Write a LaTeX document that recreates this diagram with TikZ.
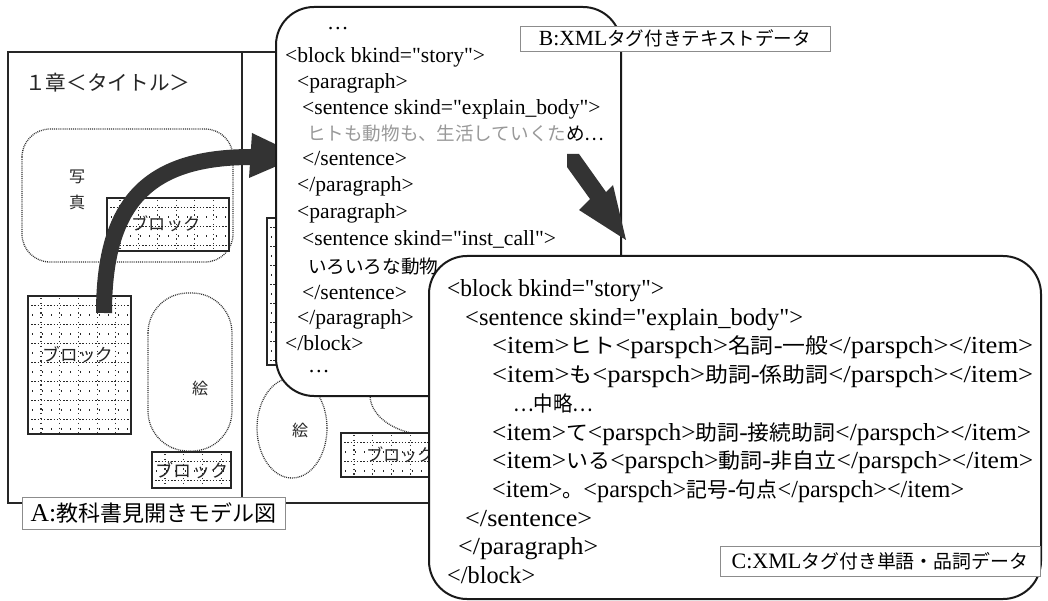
\documentclass[tikz,border=0pt]{standalone}
\usepackage{fontspec}
\usepackage{graphicx}
\setmainfont{Liberation Serif}
\newfontfamily\lat{Liberation Serif}
\newfontfamily\jpfont{Noto Sans CJK JP}[Scale=0.86]
\newcommand\J[1]{{\jpfont #1}}
\newcommand\fitw[2]{\resizebox{#1pt}{\height}{#2}}

\tikzset{
 frame/.style={draw=black!85, line width=1.6pt},
 dotline/.style={draw=black!80, line width=1.3pt, dash pattern=on 0.9pt off 1pt},
 blkline/.style={draw=black!85, line width=2.2pt},
 densedots/.style={draw=black!85, line width=1.3pt, dash pattern=on 1.3pt off 1.9pt},
 sparsedots/.style={draw=black!85, line width=1.3pt, dash pattern=on 1.3pt off 8.2pt},
 coldots/.style={draw=black!80, line width=1.2pt, dash pattern=on 1.2pt off 3.6pt},
 bigbox/.style={draw=black!90, line width=2pt, fill=white, rounded corners=38pt, inner sep=0, anchor=north west},
 lbl/.style={draw=black!45, line width=0.8pt, fill=white, inner sep=0},
 jt/.style={inner sep=0, text=black!85},
 tB/.style={anchor=base west, inner sep=0, font=\lat\fontsize{21.6}{24}\selectfont},
 tC/.style={anchor=base west, inner sep=0, font=\lat\fontsize{24.5}{27}\selectfont},
 band/.style={fill=black!80},
}

\newcommand\blockpat[4]{%
 \fill[white] (#1,#2) rectangle (#3,#4);
 \begin{scope}
 \clip (#1,#2) rectangle (#3,#4);
 \foreach \k in {0,...,8}{
  \draw[densedots] (#1,#2+9.5+19*\k) -- (#3,#2+9.5+19*\k);
  \draw[sparsedots] (#1+4,#2+19+19*\k) -- (#3,#2+19+19*\k);
 }
 \foreach \k in {0,...,7}{
  \draw[coldots] (#1+13+18.7*\k,#2+2) -- (#1+13+18.7*\k,#4);
 }
 \end{scope}
 \draw[blkline] (#1,#2) rectangle (#3,#4);}

\begin{document}
\begin{tikzpicture}[x=1pt,y=-1pt]
\useasboundingbox (0,0) rectangle (1048,601);
\fill[white] (0,0) rectangle (1048,601);

% ---- book (A) ----
\draw[frame] (8,52) rectangle (480,503);
\draw[frame] (242,52) -- (242,503);

\node[jt, anchor=west, font=\jpfont\fontsize{24}{26}\selectfont] (title) at (25,83) {１章＜タイトル＞};

\draw[dotline, rounded corners=28pt] (22,129) rectangle (233,262);
\node[jt, font=\jpfont\fontsize{18.6}{20}\selectfont] (sha) at (77,177) {写};
\node[jt, font=\jpfont\fontsize{18.6}{20}\selectfont] (shin) at (77,202) {真};

\blockpat{107}{198}{229}{251}
\node[jt, font=\jpfont\fontsize{20}{22}\selectfont] (blk1) at (166,224) {ブロック};

\blockpat{28}{296}{131}{434}
\node[jt, font=\jpfont\fontsize{20.5}{22}\selectfont] (blk2) at (78,355) {ブロック};

\draw[dotline, rounded corners=40pt] (148,293) rectangle (232,451);
\node[jt, font=\jpfont\fontsize{18.6}{20}\selectfont] (e1) at (200,388) {絵};

\blockpat{152}{452}{231}{488}
\node[jt, font=\jpfont\fontsize{21}{22}\selectfont] (blk3) at (192,470) {ブロック};

% right page (mostly hidden)
\blockpat{267}{218}{300}{365}
\draw[dotline] (292,428) ellipse [x radius=35, y radius=50];
\node[jt, font=\jpfont\fontsize{18.6}{20}\selectfont] (e2) at (300,430) {絵};
\draw[dotline] (430,395) ellipse [x radius=60, y radius=40];
\blockpat{341}{433}{445}{477}
\node[jt, anchor=west, font=\jpfont\fontsize{20}{22}\selectfont] (blk4) at (366,455) {ブロック};

% arrow A -> B
\draw[black!80, line width=16pt] (104,313) .. controls (104,200) and (150,157) .. (252,157);
\fill[band] (252,133) -- (300,156) -- (249,178) -- cycle;

% label A
\node[lbl, minimum width=263pt, minimum height=32pt, font=\lat\fontsize{25.6}{28}\selectfont] (la) at (153.5,513) {A:\J{教科書見開きモデル図}};

% ---- B box ----
\node[bigbox, minimum width=345pt, minimum height=389pt] (B) at (275,6) {};
\node[tB] (b1) at (327,30) {…};
\node[tB] (b2) at (285,63) {<block bkind="story">};
\node[tB] (b3) at (297,89) {<paragraph>};
\node[tB] (b4) at (302,115) {<sentence skind="explain\_body">};
\node[tB] (b5) at (307,141) {{\color{black!40}\J{ヒトも動物も、生活していくた}}\J{め…}};
\node[tB] (b6) at (302,166) {</sentence>};
\node[tB] (b7) at (297,192) {</paragraph>};
\node[tB] (b8) at (297,219) {<paragraph>};
\node[tB] (b9) at (302,246) {<sentence skind="inst\_call">};
\node[tB] (b10) at (308,273) {\J{いろいろな動物}};
\node[tB] (b11) at (302,299) {</sentence>};
\node[tB] (b12) at (297,324) {</paragraph>};
\node[tB] (b13) at (285,350) {</block>};
\node[tB] (b14) at (308,372) {…};

\node[lbl, minimum width=310pt, minimum height=25pt, font=\lat\fontsize{21.6}{24}\selectfont] (lb) at (675,38.5) {B:XML\J{タグ付きテキストデータ}};

% arrow B -> C
\fill[band] (567,154) -- (579,154) -- (606,192) -- (613,185) -- (626,240) -- (579,210) -- (590,199) -- (567,167) -- cycle;

% ---- C box ----
\node[bigbox, minimum width=612pt, minimum height=343pt] (C) at (428,255) {};
\node[tC] (c1) at (447,296.5) {\fitw{217}{<block bkind="story">}};
\node[tC] (c2) at (465,325.2) {\fitw{338}{<sentence skind="explain\_body">}};
\node[tC] (c3) at (492,353.9) {\fitw{541}{<item>\J{ヒト}<parspch>\J{名詞}-\J{一般}</parspch></item>}};
\node[tC] (c4) at (492,382.6) {\fitw{541}{<item>\J{も}<parspch>\J{助詞}-\J{係助詞}</parspch></item>}};
\node[tC] (c5) at (513,411.3) {\fitw{80}{\J{…中略…}}};
\node[tC] (c6) at (492,440) {\fitw{539}{<item>\J{て}<parspch>\J{助詞}-\J{接続助詞}</parspch></item>}};
\node[tC] (c7) at (492,468.7) {\fitw{541}{<item>\J{いる}<parspch>\J{動詞}-\J{非自立}</parspch></item>}};
\node[tC] (c8) at (492,497.4) {\fitw{472}{<item>\J{。}<parspch>\J{記号}-\J{句点}</parspch></item>}};
\node[tC] (c9) at (465,526.1) {\fitw{127}{</sentence>}};
\node[tC] (c10) at (458,554.8) {\fitw{140}{</paragraph>}};
\node[tC] (c11) at (447,583.5) {\fitw{88}{</block>}};

\node[lbl, minimum width=320pt, minimum height=30pt, font=\lat\fontsize{22}{25}\selectfont] (lc) at (880,561) {C:XML\J{タグ付き単語・品詞データ}};
\end{tikzpicture}
\end{document}
